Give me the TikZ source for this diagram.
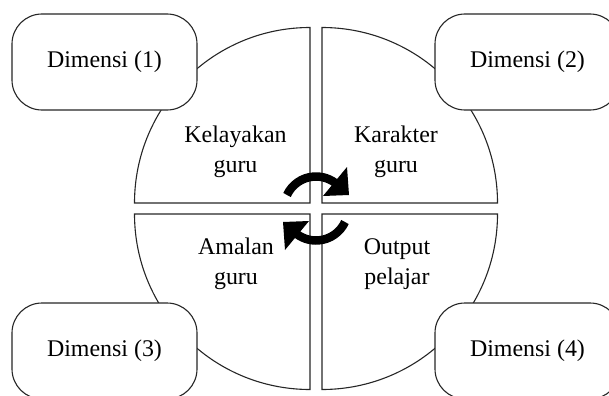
\documentclass[tikz,border=0pt]{standalone}
\usepackage{fontspec}
\setmainfont{Liberation Serif}
\begin{document}
\begin{tikzpicture}[x=1bp,y=1bp,
  quad/.style={draw=black!85, line width=1.1bp},
  dimbox/.style={draw=black!85, line width=1.1bp, fill=white, rounded corners=30bp,
    minimum width=185bp, minimum height=96bp, inner sep=0pt,
    font=\fontsize{24}{30}\selectfont},
  qlabel/.style={align=center, inner sep=0pt, font=\fontsize{24}{30}\selectfont},
  turn/.style={line width=8.5bp, draw=black}]
\useasboundingbox (0,0) rectangle (609,395);
\clip (0,0) rectangle (609,395);
\def\R{175.5}
% quadrants
\draw[quad] (310,192) -- ++(-\R,0) arc[start angle=180,end angle=90,radius=\R] -- cycle;
\draw[quad] (322,192) -- ++(0,\R) arc[start angle=90,end angle=0,radius=\R] -- cycle;
\draw[quad] (310,181) -- ++(0,-\R) arc[start angle=270,end angle=180,radius=\R] -- cycle;
\draw[quad] (322,181) -- ++(\R,0) arc[start angle=0,end angle=-90,radius=\R] -- cycle;
% quadrant labels
\node[qlabel] (q1) at (235.5,243) {Kelayakan\\guru};
\node[qlabel] (q2) at (396,243) {Karakter\\guru};
\node[qlabel] (q3) at (236,131) {Amalan\\guru};
\node[qlabel] (q4) at (397,131) {Output\\pelajar};
% turning arrows
\foreach \r in {0,180}{
  \begin{scope}[shift={(316,186.5)}, rotate=\r]
    \draw[turn] (155:32) arc[start angle=155,end angle=47,radius=32];
    \fill (31,41.5) -- (33,13.5) -- (7,12.5) -- cycle;
  \end{scope}
}
% dimension boxes
\node[dimbox] (d1) at (104.5,333) {Dimensi (1)};
\node[dimbox] (d2) at (527.5,333) {Dimensi (2)};
\node[dimbox] (d3) at (104.5,44) {Dimensi (3)};
\node[dimbox] (d4) at (527.5,44) {Dimensi (4)};
\end{tikzpicture}
\end{document}
